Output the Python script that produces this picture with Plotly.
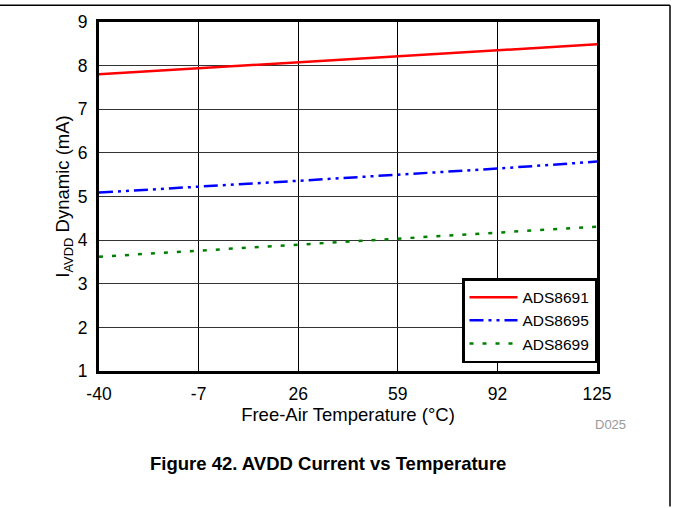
import plotly.graph_objects as go

temps = [-40, -7, 26, 59, 92, 125]
ads8691 = [7.80, 7.94, 8.08, 8.22, 8.35, 8.49]
ads8695 = [5.09, 5.22, 5.36, 5.50, 5.64, 5.80]
ads8699 = [3.62, 3.76, 3.90, 4.04, 4.17, 4.31]
x_ticks = [-40, -7, 26, 59, 92, 125]
y_ticks = [1, 2, 3, 4, 5, 6, 7, 8, 9]

fig = go.Figure()
fig.add_trace(go.Scatter(x=temps, y=ads8691, mode="lines", name="ADS8691",
                         line=dict(color="#ff0000", width=2.5)))
fig.add_trace(go.Scatter(x=temps, y=ads8695, mode="lines", name="ADS8695",
                         line=dict(color="#0000ff", width=2.5, dash="14px,5px,3px,5px,3px,5px")))
fig.add_trace(go.Scatter(x=temps, y=ads8699, mode="lines", name="ADS8699",
                         line=dict(color="#008000", width=2.5, dash="4px,9px")))

L, R, T, B = 99, 76, 18, 137
W, H = 673, 508
pw, ph = W - L - R, H - T - B
FS = 17.5

fig.update_layout(
    width=W, height=H,
    margin=dict(l=L, r=R, t=T, b=B),
    paper_bgcolor="white", plot_bgcolor="white",
    font=dict(family="Arial, Liberation Sans, sans-serif", size=FS, color="black"),
    showlegend=True,
    legend=dict(x=1.0, y=(8 / ph), xanchor="right", yanchor="bottom",
                bgcolor="white", bordercolor="black", borderwidth=2.5,
                font=dict(size=15.5), tracegroupgap=0, itemwidth=48),
    xaxis=dict(range=[-40, 125], tickvals=x_ticks, ticktext=[str(v) for v in x_ticks],
               showgrid=True, gridcolor="black", gridwidth=1,
               showline=True, linecolor="black", linewidth=3, mirror=True,
               ticks="", zeroline=False, tickfont=dict(size=FS), ticklabelstandoff=5,
               title=dict(text="Free-Air Temperature (°C)", standoff=0, font=dict(size=18.5))),
    yaxis=dict(range=[1, 9], tickvals=y_ticks, ticktext=[str(v) for v in y_ticks],
               showgrid=True, gridcolor="#333333", gridwidth=1,
               showline=True, linecolor="black", linewidth=3, mirror=True,
               ticks="", zeroline=False, tickfont=dict(size=FS), ticklabelstandoff=5,
               title=dict(text="I<sub>AVDD</sub> Dynamic (mA)", standoff=4, font=dict(size=18.5))),
)

# outer frame lines (top and right)
top_y = 1 + (T - 1) / ph
right_x = (670 - L) / pw
bot_y = -(B) / ph
fig.add_shape(type="line", xref="paper", yref="paper", x0=-L / pw, x1=right_x,
              y0=top_y, y1=top_y, line=dict(color="black", width=1.5))
fig.add_shape(type="line", xref="paper", yref="paper", x0=right_x, x1=right_x,
              y0=top_y, y1=bot_y, line=dict(color="black", width=1.5))

fig.add_annotation(text="D025", xref="paper", yref="paper",
                   x=(610 - L) / pw, y=-(425 - (T + ph)) / ph,
                   xanchor="center", yanchor="middle",
                   showarrow=False, font=dict(size=13, color="#999999"))
fig.add_annotation(text="<b>Figure 42. AVDD Current vs Temperature</b>", xref="paper", yref="paper",
                   x=(328 - L) / pw, y=-(465 - (T + ph)) / ph,
                   xanchor="center", yanchor="middle",
                   showarrow=False, font=dict(size=18.5, color="black"))

fig.write_html("out.html", config={"displayModeBar": False},
               post_script="document.body.style.margin='0';")
